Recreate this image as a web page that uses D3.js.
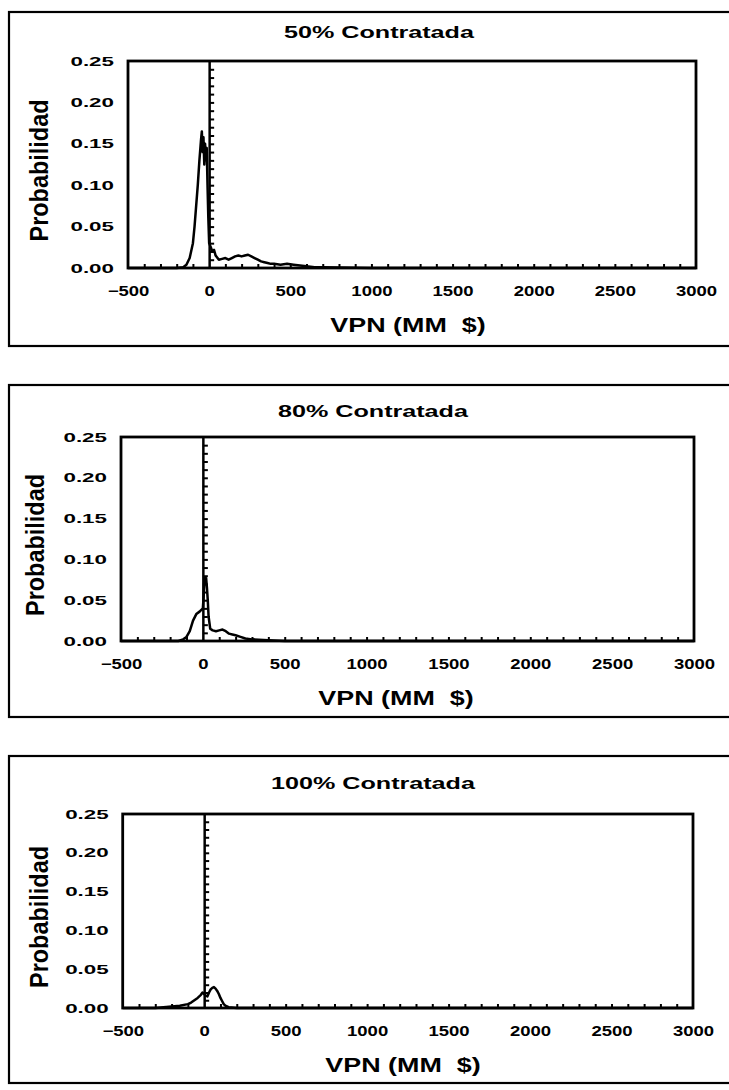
<!DOCTYPE html>
<html>
<head>
<meta charset="utf-8">
<script src="https://cdn.jsdelivr.net/npm/d3@7"></script>
<style>
  html, body { margin: 0; padding: 0; background: #fff; }
  svg { display: block; }
  text { font-family: "Liberation Sans", Arial, sans-serif; fill: #000; }
</style>
</head>
<body>
<svg id="chart" width="729" height="1090"></svg>
<script>
// ---------------- DATA ----------------
const titles = ["50% Contratada", "80% Contratada", "100% Contratada"];
const yAxisLabel = "Probabilidad";
const xAxisLabel = "VPN (MM  $)";
const xTickLabels = [-500, 0, 500, 1000, 1500, 2000, 2500, 3000];
const yTickLabels = [0.00, 0.05, 0.10, 0.15, 0.20, 0.25];

// 50% Contratada
const vpn50  = [-500, -200, -160, -140, -120, -100, -90, -80, -70, -60, -50, -45, -40, -35, -30, -25, -20, -15, -10, -5, 0, 10, 20, 30, 40, 60, 80, 100, 120, 140, 160, 180, 200, 220, 240, 260, 280, 300, 320, 340, 360, 380, 400, 440, 480, 520, 560, 600, 650, 700, 800, 1000, 3000];
const prob50 = [0, 0, 0.001, 0.004, 0.012, 0.03, 0.05, 0.075, 0.10, 0.13, 0.155, 0.165, 0.14, 0.158, 0.125, 0.15, 0.13, 0.145, 0.10, 0.06, 0.03, 0.025, 0.02, 0.022, 0.015, 0.010, 0.011, 0.012, 0.010, 0.012, 0.014, 0.015, 0.014, 0.015, 0.016, 0.014, 0.012, 0.010, 0.008, 0.007, 0.006, 0.005, 0.005, 0.004, 0.005, 0.004, 0.003, 0.002, 0.001, 0.001, 0.0005, 0, 0];

// 80% Contratada
const vpn80  = [-500, -150, -120, -100, -80, -60, -40, -20, 0, 5, 10, 15, 20, 25, 30, 35, 45, 60, 80, 100, 120, 140, 160, 180, 200, 230, 260, 300, 400, 500, 3000];
const prob80 = [0, 0, 0.002, 0.005, 0.012, 0.025, 0.033, 0.036, 0.04, 0.055, 0.078, 0.07, 0.077, 0.065, 0.05, 0.03, 0.015, 0.013, 0.012, 0.013, 0.014, 0.012, 0.009, 0.008, 0.007, 0.005, 0.003, 0.002, 0.001, 0, 0];

// 100% Contratada
const vpn100  = [-500, -300, -250, -200, -150, -100, -80, -60, -40, -20, -10, 0, 10, 20, 30, 40, 50, 60, 70, 80, 90, 100, 110, 120, 130, 150, 200, 3000];
const prob100 = [0, 0, 0.001, 0.002, 0.003, 0.005, 0.007, 0.010, 0.013, 0.017, 0.020, 0.018, 0.016, 0.015, 0.020, 0.024, 0.026, 0.027, 0.025, 0.022, 0.018, 0.013, 0.009, 0.005, 0.003, 0.001, 0, 0];

const seriesX = [vpn50, vpn80, vpn100];
const seriesY = [prob50, prob80, prob100];

// ---------------- LAYOUT ----------------
const panels = [
  { frameTop: 12,  frameBottom: 346,  left: 128,   right: 696, top: 61,  bottom: 268,  titleX: 379, titleY: 38,   xTitleX: 408, ylabX: 39 },
  { frameTop: 385, frameBottom: 717,  left: 121,   right: 694, top: 437, bottom: 641,  titleX: 373, titleY: 417,  xTitleX: 396, ylabX: 35 },
  { frameTop: 756, frameBottom: 1083, left: 122.7, right: 693, top: 814, bottom: 1008, titleX: 373, titleY: 789,  xTitleX: 403, ylabX: 39 }
];

const svg = d3.select("#chart");

function stretch(sel, factor) {
  sel.each(function() {
    const w = this.getComputedTextLength();
    d3.select(this).attr("textLength", w * factor).attr("lengthAdjust", "spacingAndGlyphs");
  });
}

panels.forEach((p, i) => {
  const g = svg.append("g");

  // outer frame (right side runs off the page)
  g.append("rect")
    .attr("x", 9).attr("y", p.frameTop)
    .attr("width", 760).attr("height", p.frameBottom - p.frameTop)
    .attr("fill", "none").attr("stroke", "#000").attr("stroke-width", 2.2);

  const x = d3.scaleLinear().domain([-500, 3000]).range([p.left, p.right]);
  const y = d3.scaleLinear().domain([0, 0.25]).range([p.bottom, p.top]);

  // title
  const t = g.append("text")
    .attr("x", p.titleX).attr("y", p.titleY)
    .attr("text-anchor", "middle")
    .attr("font-size", 16).attr("font-weight", "bold")
    .text(titles[i]);
  stretch(t, 1.57);

  // y tick labels
  const yAxis = g.append("g")
    .attr("transform", `translate(${p.left - 14},0)`)
    .call(d3.axisLeft(y).tickValues(yTickLabels).tickSize(0).tickPadding(0).tickFormat(d3.format(".2f")));
  yAxis.select(".domain").remove();
  yAxis.selectAll("text")
    .attr("font-size", 13).attr("font-weight", "bold")
    .attr("font-family", "Liberation Sans, Arial, sans-serif")
    .attr("fill", "#000")
    .call(s => stretch(s, 1.72));

  // x tick labels
  const xAxis = g.append("g")
    .attr("transform", `translate(0,${p.bottom + 18})`)
    .call(d3.axisBottom(x).tickValues(xTickLabels).tickSize(0).tickPadding(0).tickFormat(d3.format("d")));
  xAxis.select(".domain").remove();
  xAxis.selectAll("text")
    .attr("font-size", 14).attr("font-weight", "bold")
    .attr("font-family", "Liberation Sans, Arial, sans-serif")
    .attr("fill", "#000")
    .call(s => stretch(s, 1.32));

  // minor ticks along the bottom every 100
  const minor = d3.range(-400, 3000, 100).filter(v => v !== 0);
  const bt = g.append("g")
    .attr("transform", `translate(0,${p.bottom})`)
    .call(d3.axisBottom(x).tickValues(minor).tickSizeInner(-4).tickSizeOuter(0).tickFormat(""));
  bt.select(".domain").remove();
  bt.selectAll("line").attr("stroke", "#000").attr("stroke-width", 2);

  // zero line with ticks every 0.01
  const zt = g.append("g")
    .attr("transform", `translate(${x(0)},0)`)
    .call(d3.axisRight(y).tickValues(d3.range(1, 25).map(k => k / 100)).tickSizeInner(5).tickSizeOuter(0).tickFormat(""));
  zt.select(".domain").attr("stroke", "#000").attr("stroke-width", 2.5);
  zt.selectAll("line").attr("stroke", "#000").attr("stroke-width", 2);

  // distribution curve
  const pts = seriesX[i].map((v, k) => [v, seriesY[i][k]]);
  g.append("path")
    .datum(pts)
    .attr("fill", "none").attr("stroke", "#000").attr("stroke-width", 2.5)
    .attr("stroke-linejoin", "round")
    .attr("d", d3.line().x(d => x(d[0])).y(d => y(d[1])));

  // plot frame
  g.append("rect")
    .attr("x", p.left).attr("y", p.top)
    .attr("width", p.right - p.left).attr("height", p.bottom - p.top)
    .attr("fill", "none").attr("stroke", "#000").attr("stroke-width", 2.8);

  // x axis title
  const xt = g.append("text")
    .attr("x", p.xTitleX).attr("y", p.bottom + 64)
    .attr("text-anchor", "middle")
    .attr("font-size", 21).attr("font-weight", "bold")
    .style("white-space", "pre")
    .text(xAxisLabel);
  stretch(xt, 1.28);

  // y axis title
  const yc = (p.top + p.bottom) / 2 + 6;
  g.append("g")
    .attr("transform", `translate(${p.ylabX},${yc}) scale(1.25,1) rotate(-90)`)
    .append("text")
    .attr("x", 0).attr("y", 0)
    .attr("dy", "0.35em")
    .attr("text-anchor", "middle")
    .attr("font-size", 21).attr("font-weight", "bold")
    .attr("textLength", 142).attr("lengthAdjust", "spacingAndGlyphs")
    .text(yAxisLabel);
});
</script>
</body>
</html>
